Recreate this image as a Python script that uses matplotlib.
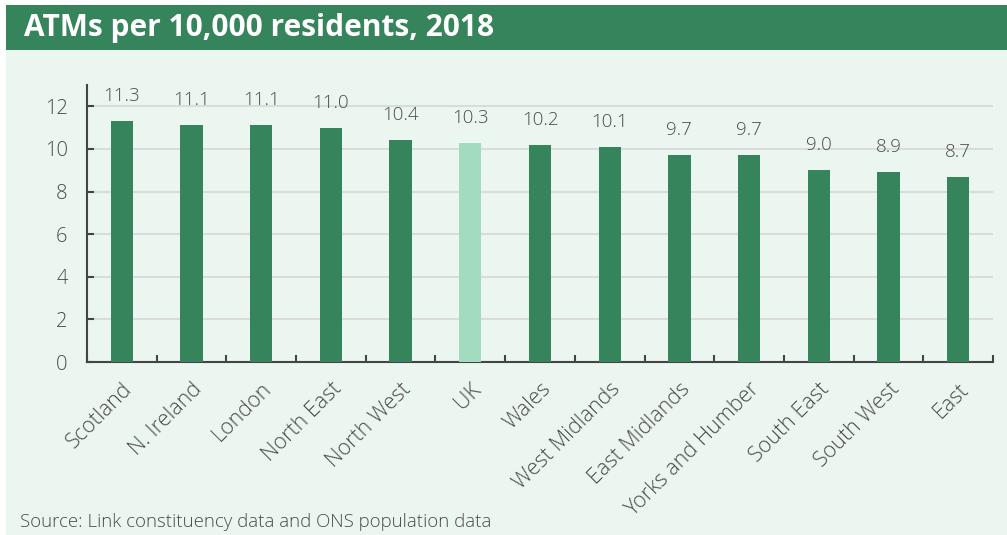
import matplotlib
matplotlib.use("Agg")
import matplotlib.pyplot as plt
from matplotlib.patches import Rectangle
from matplotlib.ticker import FixedLocator

categories = ["Scotland", "N. Ireland", "London", "North East", "North West", "UK",
              "Wales", "West Midlands", "East Midlands", "Yorks and Humber",
              "South East", "South West", "East"]
values = [11.3, 11.1, 11.1, 11.0, 10.4, 10.3, 10.2, 10.1, 9.7, 9.7, 9.0, 8.9, 8.7]
labels = ["11.3", "11.1", "11.1", "11.0", "10.4", "10.3", "10.2", "10.1", "9.7", "9.7",
          "9.0", "8.9", "8.7"]
yticks = [0, 2, 4, 6, 8, 10, 12]

title = "ATMs per 10,000 residents, 2018"
source = "Source: Link constituency data and ONS population data"

DARK = "#35845B"
LIGHT = "#A3DBC0"
BG = "#ECF6F0"
GRID = "#D9DCDA"
TXT = "#4A4A4A"

plt.rcParams['font.family'] = ['Open Sans', 'DejaVu Sans']

W, H = 1007, 535
fig = plt.figure(figsize=(W / 100, H / 100), dpi=100)
fig.patch.set_facecolor("white")

# panel background and title bar
fig.add_artist(Rectangle((6 / W, 0), 1 - 6 / W, 1 - 50 / H, transform=fig.transFigure,
                         facecolor=BG, edgecolor="none", zorder=0))
fig.add_artist(Rectangle((6 / W, 1 - 50 / H), 1 - 6 / W, 45 / H, transform=fig.transFigure,
                         facecolor=DARK, edgecolor="none", zorder=0))
fig.text(24 / W, 1 - 28 / H, title, color="white", fontsize=21.5, fontweight="bold",
         va="center", ha="left")
fig.text(20 / W, 1 - 522 / H, source, color=TXT, fontsize=13.4, fontweight="light",
         va="center", ha="left")

left, right = 87, 993
top_px, bot_px = 85, 362
ax = fig.add_axes([left / W, 1 - bot_px / H, (right - left) / W, (bot_px - top_px) / H])
ax.set_facecolor("none")

n = len(categories)
x = list(range(n))
colors = [LIGHT if c == "UK" else DARK for c in categories]
ax.bar(x, values, width=0.32, color=colors, zorder=3)

ax.set_xlim(-0.5, n - 0.5)
ax.set_ylim(0, 13)
ax.set_yticks(yticks)
for t in ax.get_yticklabels():
    t.set_fontweight("light")
ax.yaxis.grid(True, color=GRID, linewidth=1.5, zorder=0)
ax.tick_params(axis="y", length=5, width=1.5, direction="in", color="#444444",
               labelsize=14.5, labelcolor=TXT, pad=14)

ax.set_xticks(x)
ax.set_xticklabels(categories, rotation=45, ha="right", rotation_mode="anchor",
                   fontsize=15.5, color=TXT, fontweight="light")
ax.tick_params(axis="x", length=0, pad=12)
ax.xaxis.set_minor_locator(FixedLocator([i - 0.5 for i in range(n + 1)]))
ax.tick_params(axis="x", which="minor", length=5, width=1.5, direction="in", color="#444444")

for s in ["top", "right"]:
    ax.spines[s].set_visible(False)
for s in ["left", "bottom"]:
    ax.spines[s].set_color("#444444")
    ax.spines[s].set_linewidth(1.5)

for xi, v, lab in zip(x, values, labels):
    ax.annotate(lab, (xi, v), xytext=(0, 18), textcoords="offset points",
                ha="center", va="center", fontsize=13.5, color=TXT, fontweight="light",
                zorder=4)

fig.savefig("out.png", dpi=100, facecolor=fig.get_facecolor())
